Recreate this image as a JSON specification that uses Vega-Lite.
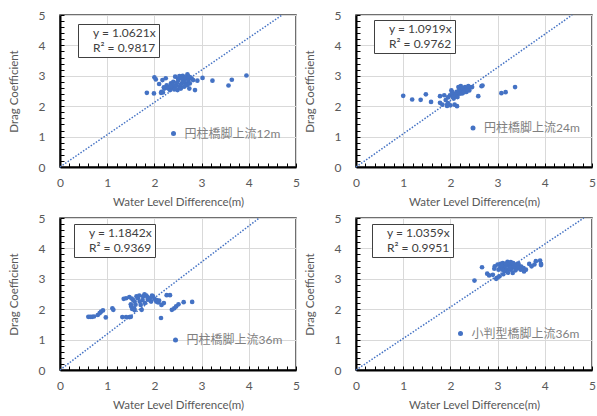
{
  "$schema": "https://vega.github.io/schema/vega-lite/v6.json",
  "padding": {"left": 7, "top": 8, "right": 2, "bottom": 2},
  "background": "white",
  "columns": 2,
  "bounds": "flush",
  "spacing": {"row": 51, "column": 60},
  "resolve": {"scale": {"color": "independent", "shape": "independent"}, "legend": {"color": "independent", "shape": "independent"}},
  "datasets": {
    "p1": [{"x":1.84,"y":2.44},{"x":1.99,"y":2.42},{"x":2.00,"y":2.95},{"x":2.03,"y":2.88},{"x":2.10,"y":2.73},{"x":2.14,"y":2.44},{"x":2.18,"y":2.45},{"x":2.17,"y":2.86},{"x":2.24,"y":2.92},{"x":2.21,"y":2.58},{"x":2.26,"y":2.69},{"x":2.30,"y":2.58},{"x":2.33,"y":2.53},{"x":2.37,"y":2.62},{"x":2.35,"y":2.75},{"x":2.40,"y":2.80},{"x":2.44,"y":2.97},{"x":2.46,"y":2.69},{"x":2.49,"y":2.53},{"x":2.51,"y":2.86},{"x":2.53,"y":2.99},{"x":2.54,"y":2.62},{"x":2.58,"y":2.75},{"x":2.60,"y":3.00},{"x":2.61,"y":2.86},{"x":2.63,"y":2.64},{"x":2.65,"y":2.91},{"x":2.67,"y":2.75},{"x":2.70,"y":3.05},{"x":2.72,"y":2.86},{"x":2.74,"y":2.58},{"x":2.75,"y":2.75},{"x":2.79,"y":2.91},{"x":2.82,"y":2.86},{"x":2.86,"y":2.53},{"x":2.91,"y":2.84},{"x":3.02,"y":2.93},{"x":3.23,"y":2.84},{"x":3.57,"y":2.68},{"x":3.64,"y":2.87},{"x":3.95,"y":3.01},{"x":2.45,"y":2.65},{"x":2.55,"y":2.70},{"x":2.62,"y":2.80},{"x":2.68,"y":2.95},{"x":2.50,"y":2.90},{"x":2.38,"y":2.70},{"x":2.28,"y":2.60},{"x":2.70,"y":2.70},{"x":2.56,"y":2.58},{"x":2.64,"y":2.95},{"x":2.76,"y":2.95},{"x":2.42,"y":2.55},{"x":2.20,"y":2.62},{"x":2.15,"y":2.47},{"x":2.72,"y":2.98},{"x":2.58,"y":2.92},{"x":2.48,"y":2.78},{"x":2.66,"y":2.68},{"x":2.34,"y":2.66}],
    "p2": [{"x":1.00,"y":2.34},{"x":1.19,"y":2.22},{"x":1.37,"y":2.21},{"x":1.48,"y":2.39},{"x":1.59,"y":2.14},{"x":1.78,"y":2.33},{"x":1.78,"y":2.11},{"x":1.83,"y":2.05},{"x":1.87,"y":2.36},{"x":1.90,"y":2.20},{"x":1.93,"y":2.01},{"x":1.95,"y":2.29},{"x":1.99,"y":2.36},{"x":2.00,"y":2.03},{"x":2.02,"y":2.52},{"x":2.05,"y":2.41},{"x":2.07,"y":2.25},{"x":2.09,"y":2.05},{"x":2.12,"y":2.36},{"x":2.14,"y":2.00},{"x":2.13,"y":2.47},{"x":2.17,"y":2.63},{"x":2.20,"y":2.41},{"x":2.22,"y":2.66},{"x":2.25,"y":2.52},{"x":2.27,"y":2.57},{"x":2.31,"y":2.63},{"x":2.34,"y":2.47},{"x":2.36,"y":2.60},{"x":2.40,"y":2.52},{"x":2.43,"y":2.62},{"x":2.46,"y":2.63},{"x":2.59,"y":2.33},{"x":2.66,"y":2.66},{"x":2.68,"y":2.68},{"x":3.08,"y":2.43},{"x":3.17,"y":2.46},{"x":3.37,"y":2.63},{"x":2.10,"y":2.40},{"x":2.15,"y":2.30},{"x":2.18,"y":2.50},{"x":2.25,"y":2.42},{"x":2.30,"y":2.55},{"x":2.05,"y":2.30},{"x":1.95,"y":2.10},{"x":2.20,"y":2.55},{"x":2.35,"y":2.55},{"x":2.28,"y":2.45},{"x":2.04,"y":2.46},{"x":2.24,"y":2.60},{"x":2.38,"y":2.66}],
    "p3": [{"x":0.60,"y":1.75},{"x":0.64,"y":1.75},{"x":0.68,"y":1.75},{"x":0.72,"y":1.76},{"x":0.80,"y":1.81},{"x":0.84,"y":1.87},{"x":0.87,"y":1.92},{"x":0.91,"y":1.96},{"x":0.97,"y":1.73},{"x":1.11,"y":2.03},{"x":1.13,"y":1.98},{"x":1.32,"y":1.74},{"x":1.40,"y":1.74},{"x":1.47,"y":1.74},{"x":1.50,"y":1.75},{"x":1.35,"y":2.34},{"x":1.40,"y":2.36},{"x":1.47,"y":2.40},{"x":1.50,"y":2.16},{"x":1.51,"y":2.09},{"x":1.53,"y":2.01},{"x":1.57,"y":2.03},{"x":1.58,"y":2.25},{"x":1.62,"y":2.42},{"x":1.65,"y":2.36},{"x":1.69,"y":2.25},{"x":1.71,"y":2.14},{"x":1.73,"y":1.98},{"x":1.76,"y":2.42},{"x":1.79,"y":2.49},{"x":1.83,"y":2.45},{"x":1.86,"y":2.31},{"x":1.90,"y":2.36},{"x":1.93,"y":2.25},{"x":1.97,"y":2.42},{"x":2.00,"y":2.34},{"x":2.04,"y":2.25},{"x":2.08,"y":2.22},{"x":2.14,"y":1.71},{"x":2.15,"y":2.14},{"x":2.20,"y":2.20},{"x":2.26,"y":2.46},{"x":2.33,"y":2.46},{"x":2.37,"y":1.98},{"x":2.42,"y":2.03},{"x":2.46,"y":2.09},{"x":2.51,"y":2.16},{"x":2.62,"y":2.23},{"x":2.80,"y":2.24},{"x":1.55,"y":2.30},{"x":1.60,"y":2.15},{"x":1.75,"y":2.30},{"x":1.80,"y":2.20},{"x":1.95,"y":2.45},{"x":2.05,"y":2.30},{"x":1.52,"y":2.35},{"x":1.68,"y":2.45},{"x":1.85,"y":2.40},{"x":1.58,"y":1.97},{"x":2.10,"y":2.28}],
    "p4": [{"x":2.51,"y":2.94},{"x":2.67,"y":3.38},{"x":2.78,"y":3.17},{"x":2.82,"y":3.11},{"x":2.90,"y":3.13},{"x":2.93,"y":3.33},{"x":2.97,"y":3.00},{"x":3.00,"y":3.04},{"x":3.04,"y":3.08},{"x":2.94,"y":3.41},{"x":3.00,"y":3.47},{"x":3.06,"y":3.49},{"x":3.11,"y":3.52},{"x":3.14,"y":3.38},{"x":3.18,"y":3.27},{"x":3.21,"y":3.56},{"x":3.25,"y":3.41},{"x":3.28,"y":3.30},{"x":3.32,"y":3.19},{"x":3.35,"y":3.47},{"x":3.39,"y":3.36},{"x":3.42,"y":3.49},{"x":3.46,"y":3.41},{"x":3.49,"y":3.30},{"x":3.56,"y":3.24},{"x":3.67,"y":3.49},{"x":3.72,"y":3.41},{"x":3.78,"y":3.47},{"x":3.81,"y":3.58},{"x":3.90,"y":3.60},{"x":3.92,"y":3.49},{"x":3.05,"y":3.35},{"x":3.10,"y":3.45},{"x":3.15,"y":3.40},{"x":3.20,"y":3.45},{"x":3.25,"y":3.50},{"x":3.30,"y":3.45},{"x":3.20,"y":3.30},{"x":3.15,"y":3.25},{"x":3.30,"y":3.35},{"x":3.35,"y":3.40},{"x":3.40,"y":3.45},{"x":3.10,"y":3.30},{"x":3.45,"y":3.35},{"x":3.22,"y":3.20},{"x":3.02,"y":3.30},{"x":3.50,"y":3.40},{"x":3.38,"y":3.28},{"x":3.28,"y":3.55},{"x":3.12,"y":3.15},{"x":3.08,"y":3.42},{"x":3.18,"y":3.50},{"x":3.33,"y":3.52},{"x":3.26,"y":3.36},{"x":3.44,"y":3.50},{"x":3.55,"y":3.35},{"x":3.60,"y":3.30},{"x":3.92,"y":3.45}]
  },
  "concat": [
    {
      "width": 236, "height": 152,
      "resolve": {"axis": {"x": "independent", "y": "independent"}},
      "layer": [
        {"data": {"values": [{"x": 0, "y": 0}, {"x": 4.708, "y": 5}]},
         "mark": {"type": "line", "color": "#4472C4", "strokeWidth": 1.5, "strokeDash": [1.5, 1.6]},
         "encoding": {
           "x": {"field": "x", "type": "quantitative", "scale": {"domain": [0, 5], "nice": false}, "axis": {"orient": "bottom", "title": "Water Level Difference(m)", "values": [0,1,2,3,4,5], "ticks": false, "domain": false, "grid": true, "labelOverlap": false, "labelFlush": false}},
           "y": {"field": "y", "type": "quantitative", "scale": {"domain": [0, 5], "nice": false}, "axis": {"orient": "left", "title": "Drag Coefficient", "values": [0,1,2,3,4,5], "ticks": false, "domain": false, "grid": true, "labelOverlap": false, "labelFlush": false}}
         }},
        {"data": {"name": "p1"},
         "mark": {"type": "circle", "size": 22, "opacity": 1},
         "encoding": {
           "x": {"field": "x", "type": "quantitative", "axis": {"orient": "bottom", "title": null, "labels": false, "grid": false, "ticks": true, "domain": true, "values": [0,0.2,0.4,0.6,0.8,1,1.2,1.4,1.6,1.8,2,2.2,2.4,2.6,2.8,3,3.2,3.4,3.6,3.8,4,4.2,4.4,4.6,4.8,5]}},
           "y": {"field": "y", "type": "quantitative", "axis": {"orient": "left", "title": null, "labels": false, "grid": false, "ticks": true, "domain": true, "values": [0,0.2,0.4,0.6,0.8,1,1.2,1.4,1.6,1.8,2,2.2,2.4,2.6,2.8,3,3.2,3.4,3.6,3.8,4,4.2,4.4,4.6,4.8,5]}},
           "color": {"datum": "円柱橋脚上流12m", "scale": {"range": ["#4472C4"]}, "legend": {"orient": "none", "legendX": 107.5, "legendY": 112.5, "title": null, "padding": 0, "symbolSize": 25, "symbolType": "circle", "labelOffset": 5, "labelColor": "#7f7f7f", "labelFontSize": 12}}
         }},
        {"data": {"values": [{"fit": "y = 1.0621x"}, {"fit": "R² = 0.9817"}]},
         "mark": {"type": "point", "opacity": 0},
         "encoding": {
           "shape": {"field": "fit", "type": "nominal", "scale": {"domain": ["y = 1.0621x", "R² = 0.9817"]}, "legend": {"orient": "none", "legendX": 18, "legendY": 9, "title": null, "padding": 3, "strokeColor": "#404040", "fillColor": "white", "symbolSize": 0, "symbolOpacity": 0, "symbolStrokeWidth": 0, "labelOffset": 0, "rowPadding": 3, "labelColor": "#404040", "labelFontSize": 12}}
         }}
      ]
    },
    {
      "width": 236, "height": 152,
      "resolve": {"axis": {"x": "independent", "y": "independent"}},
      "layer": [
        {"data": {"values": [{"x": 0, "y": 0}, {"x": 4.579, "y": 5}]},
         "mark": {"type": "line", "color": "#4472C4", "strokeWidth": 1.5, "strokeDash": [1.5, 1.6]},
         "encoding": {
           "x": {"field": "x", "type": "quantitative", "scale": {"domain": [0, 5], "nice": false}, "axis": {"orient": "bottom", "title": "Water Level Difference(m)", "values": [0,1,2,3,4,5], "ticks": false, "domain": false, "grid": true, "labelOverlap": false, "labelFlush": false}},
           "y": {"field": "y", "type": "quantitative", "scale": {"domain": [0, 5], "nice": false}, "axis": {"orient": "left", "title": "Drag Coefficient", "values": [0,1,2,3,4,5], "ticks": false, "domain": false, "grid": true, "labelOverlap": false, "labelFlush": false}}
         }},
        {"data": {"name": "p2"},
         "mark": {"type": "circle", "size": 22, "opacity": 1},
         "encoding": {
           "x": {"field": "x", "type": "quantitative", "axis": {"orient": "bottom", "title": null, "labels": false, "grid": false, "ticks": true, "domain": true, "values": [0,0.2,0.4,0.6,0.8,1,1.2,1.4,1.6,1.8,2,2.2,2.4,2.6,2.8,3,3.2,3.4,3.6,3.8,4,4.2,4.4,4.6,4.8,5]}},
           "y": {"field": "y", "type": "quantitative", "axis": {"orient": "left", "title": null, "labels": false, "grid": false, "ticks": true, "domain": true, "values": [0,0.2,0.4,0.6,0.8,1,1.2,1.4,1.6,1.8,2,2.2,2.4,2.6,2.8,3,3.2,3.4,3.6,3.8,4,4.2,4.4,4.6,4.8,5]}},
           "color": {"datum": "円柱橋脚上流24m", "scale": {"range": ["#4472C4"]}, "legend": {"orient": "none", "legendX": 111, "legendY": 107, "title": null, "padding": 0, "symbolSize": 25, "symbolType": "circle", "labelOffset": 5, "labelColor": "#7f7f7f", "labelFontSize": 12}}
         }},
        {"data": {"values": [{"fit": "y = 1.0919x"}, {"fit": "R² = 0.9762"}]},
         "mark": {"type": "point", "opacity": 0},
         "encoding": {
           "shape": {"field": "fit", "type": "nominal", "scale": {"domain": ["y = 1.0919x", "R² = 0.9762"]}, "legend": {"orient": "none", "legendX": 18, "legendY": 5, "title": null, "padding": 3, "strokeColor": "#404040", "fillColor": "white", "symbolSize": 0, "symbolOpacity": 0, "symbolStrokeWidth": 0, "labelOffset": 0, "rowPadding": 3, "labelColor": "#404040", "labelFontSize": 12}}
         }}
      ]
    },
    {
      "width": 236, "height": 152,
      "resolve": {"axis": {"x": "independent", "y": "independent"}},
      "layer": [
        {"data": {"values": [{"x": 0, "y": 0}, {"x": 4.222, "y": 5}]},
         "mark": {"type": "line", "color": "#4472C4", "strokeWidth": 1.5, "strokeDash": [1.5, 1.6]},
         "encoding": {
           "x": {"field": "x", "type": "quantitative", "scale": {"domain": [0, 5], "nice": false}, "axis": {"orient": "bottom", "title": "Water Level Difference(m)", "values": [0,1,2,3,4,5], "ticks": false, "domain": false, "grid": true, "labelOverlap": false, "labelFlush": false}},
           "y": {"field": "y", "type": "quantitative", "scale": {"domain": [0, 5], "nice": false}, "axis": {"orient": "left", "title": "Drag Coefficient", "values": [0,1,2,3,4,5], "ticks": false, "domain": false, "grid": true, "labelOverlap": false, "labelFlush": false}}
         }},
        {"data": {"name": "p3"},
         "mark": {"type": "circle", "size": 22, "opacity": 1},
         "encoding": {
           "x": {"field": "x", "type": "quantitative", "axis": {"orient": "bottom", "title": null, "labels": false, "grid": false, "ticks": true, "domain": true, "values": [0,0.2,0.4,0.6,0.8,1,1.2,1.4,1.6,1.8,2,2.2,2.4,2.6,2.8,3,3.2,3.4,3.6,3.8,4,4.2,4.4,4.6,4.8,5]}},
           "y": {"field": "y", "type": "quantitative", "axis": {"orient": "left", "title": null, "labels": false, "grid": false, "ticks": true, "domain": true, "values": [0,0.2,0.4,0.6,0.8,1,1.2,1.4,1.6,1.8,2,2.2,2.4,2.6,2.8,3,3.2,3.4,3.6,3.8,4,4.2,4.4,4.6,4.8,5]}},
           "color": {"datum": "円柱橋脚上流36m", "scale": {"range": ["#4472C4"]}, "legend": {"orient": "none", "legendX": 109.5, "legendY": 116, "title": null, "padding": 0, "symbolSize": 25, "symbolType": "circle", "labelOffset": 5, "labelColor": "#7f7f7f", "labelFontSize": 12}}
         }},
        {"data": {"values": [{"fit": "y = 1.1842x"}, {"fit": "R² = 0.9369"}]},
         "mark": {"type": "point", "opacity": 0},
         "encoding": {
           "shape": {"field": "fit", "type": "nominal", "scale": {"domain": ["y = 1.1842x", "R² = 0.9369"]}, "legend": {"orient": "none", "legendX": 14, "legendY": 6, "title": null, "padding": 3, "strokeColor": "#404040", "fillColor": "white", "symbolSize": 0, "symbolOpacity": 0, "symbolStrokeWidth": 0, "labelOffset": 0, "rowPadding": 3, "labelColor": "#404040", "labelFontSize": 12}}
         }}
      ]
    },
    {
      "width": 236, "height": 152,
      "resolve": {"axis": {"x": "independent", "y": "independent"}},
      "layer": [
        {"data": {"values": [{"x": 0, "y": 0}, {"x": 4.827, "y": 5}]},
         "mark": {"type": "line", "color": "#4472C4", "strokeWidth": 1.5, "strokeDash": [1.5, 1.6]},
         "encoding": {
           "x": {"field": "x", "type": "quantitative", "scale": {"domain": [0, 5], "nice": false}, "axis": {"orient": "bottom", "title": "Water Level Difference(m)", "values": [0,1,2,3,4,5], "ticks": false, "domain": false, "grid": true, "labelOverlap": false, "labelFlush": false}},
           "y": {"field": "y", "type": "quantitative", "scale": {"domain": [0, 5], "nice": false}, "axis": {"orient": "left", "title": "Drag Coefficient", "values": [0,1,2,3,4,5], "ticks": false, "domain": false, "grid": true, "labelOverlap": false, "labelFlush": false}}
         }},
        {"data": {"name": "p4"},
         "mark": {"type": "circle", "size": 22, "opacity": 1},
         "encoding": {
           "x": {"field": "x", "type": "quantitative", "axis": {"orient": "bottom", "title": null, "labels": false, "grid": false, "ticks": true, "domain": true, "values": [0,0.2,0.4,0.6,0.8,1,1.2,1.4,1.6,1.8,2,2.2,2.4,2.6,2.8,3,3.2,3.4,3.6,3.8,4,4.2,4.4,4.6,4.8,5]}},
           "y": {"field": "y", "type": "quantitative", "axis": {"orient": "left", "title": null, "labels": false, "grid": false, "ticks": true, "domain": true, "values": [0,0.2,0.4,0.6,0.8,1,1.2,1.4,1.6,1.8,2,2.2,2.4,2.6,2.8,3,3.2,3.4,3.6,3.8,4,4.2,4.4,4.6,4.8,5]}},
           "color": {"datum": "小判型橋脚上流36m", "scale": {"range": ["#4472C4"]}, "legend": {"orient": "none", "legendX": 98.5, "legendY": 109.5, "title": null, "padding": 0, "symbolSize": 25, "symbolType": "circle", "labelOffset": 5, "labelColor": "#7f7f7f", "labelFontSize": 12}}
         }},
        {"data": {"values": [{"fit": "y = 1.0359x"}, {"fit": "R² = 0.9951"}]},
         "mark": {"type": "point", "opacity": 0},
         "encoding": {
           "shape": {"field": "fit", "type": "nominal", "scale": {"domain": ["y = 1.0359x", "R² = 0.9951"]}, "legend": {"orient": "none", "legendX": 16, "legendY": 6, "title": null, "padding": 3, "strokeColor": "#404040", "fillColor": "white", "symbolSize": 0, "symbolOpacity": 0, "symbolStrokeWidth": 0, "labelOffset": 0, "rowPadding": 3, "labelColor": "#404040", "labelFontSize": 12}}
         }}
      ]
    }
  ],
  "config": {
    "font": "Lato, 'Noto Sans CJK JP', sans-serif",
    "view": {"stroke": "#404040", "strokeWidth": 1.5},
    "axis": {
      "domainColor": "#000000", "domainWidth": 2,
      "tickColor": "#000000", "tickSize": -4, "tickWidth": 1,
      "gridColor": "#d9d9d9", "gridWidth": 1,
      "labelFont": "Lato, 'Noto Sans CJK JP', sans-serif", "labelFontSize": 12, "labelColor": "#595959",
      "titleFont": "Lato, 'Noto Sans CJK JP', sans-serif", "titleFontSize": 11.5, "titleFontWeight": "normal", "titleColor": "#595959"
    },
    "axisX": {"labelPadding": 10, "titlePadding": 8},
    "axisY": {"labelPadding": 15, "titlePadding": 19},
    "legend": {"labelFont": "Lato, 'Noto Sans CJK JP', sans-serif"}
  }
}
